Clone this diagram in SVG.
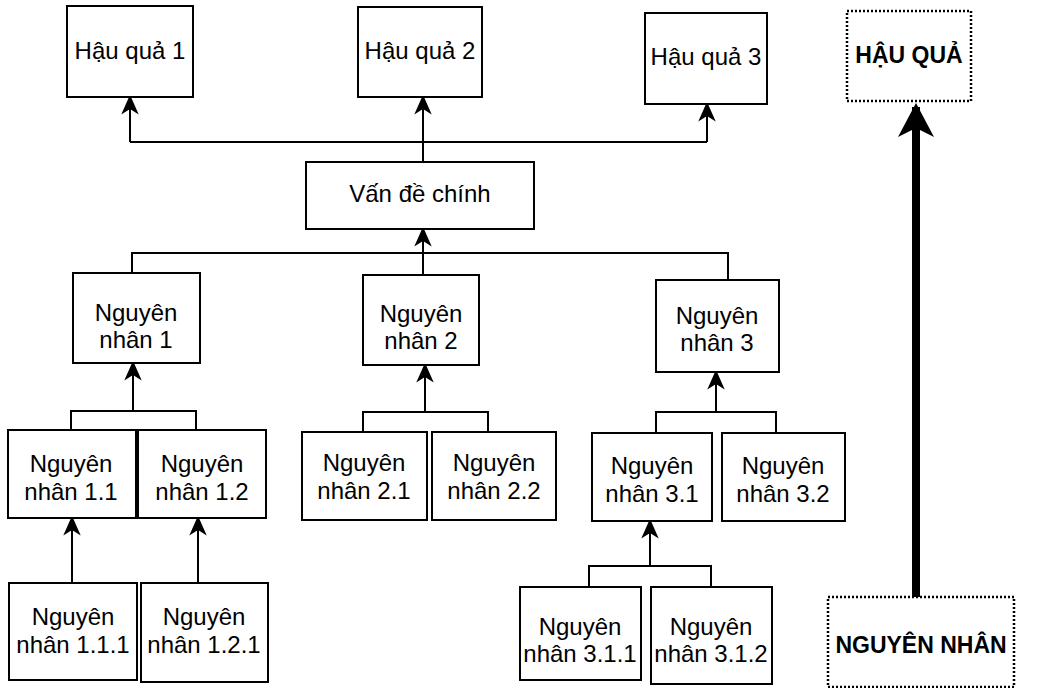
<svg xmlns="http://www.w3.org/2000/svg" width="1037" height="688" viewBox="0 0 1037 688">
<style>
  .box { fill: #fff; stroke: #000; stroke-width: 2; }
  .dot { fill: #fff; stroke: #000; stroke-width: 2.5; stroke-dasharray: 2 2; }
  .t { font-family: "Liberation Sans", Arial, sans-serif; font-size: 24px; fill: #000; text-anchor: middle; }
  .b { font-family: "Liberation Sans", Arial, sans-serif; font-size: 23px; font-weight: bold; fill: #000; text-anchor: middle; }
  .c { fill: none; stroke: #000; stroke-width: 2; }
  .a { fill: none; stroke: #000; stroke-width: 2; marker-end: url(#ah); }
  .thick { fill: none; stroke: #000; stroke-width: 8; marker-end: url(#big); }
</style>
<defs>
  <marker id="ah" markerUnits="userSpaceOnUse" markerWidth="24" markerHeight="24" viewBox="-20 -10 22 20" refX="-2" refY="0" orient="auto" overflow="visible">
    <path d="M0,0 L-18,-8 L-13,0 L-18,8 Z" fill="#000"/>
  </marker>
  <marker id="big" markerUnits="userSpaceOnUse" markerWidth="40" markerHeight="40" viewBox="-36 -20 40 40" refX="-4" refY="0" orient="auto" overflow="visible">
    <path d="M0,0 L-34,-18 L-25,0 L-34,18 Z" fill="#000"/>
  </marker>
</defs>

<g id="connectors">
  <!-- effects bus -->
  <path class="c" d="M130,142 H707"/>
  <path class="a" d="M130,142 V97"/>
  <path class="a" d="M707,142 V104"/>
  <path class="a" d="M423,162 V97"/>
  <!-- causes bus -->
  <path class="c" d="M132,273 V253 H728 V280"/>
  <path class="c" d="M423,253 V274"/>
  <path class="a" d="M423,253 V229"/>
  <!-- NN1 -->
  <path class="c" d="M71,430 V411 H196 V430"/>
  <path class="a" d="M133,411 V363"/>
  <!-- NN2 -->
  <path class="c" d="M363,432 V412 H488 V432"/>
  <path class="a" d="M425,412 V365"/>
  <!-- NN3 -->
  <path class="c" d="M656,433 V412 H776 V433"/>
  <path class="a" d="M716,412 V372"/>
  <!-- NN1.1, NN1.2 -->
  <path class="a" d="M72,583 V518"/>
  <path class="a" d="M198,583 V518"/>
  <!-- NN3.1 -->
  <path class="c" d="M589,587 V566 H711 V587"/>
  <path class="a" d="M650,566 V521"/>
  <!-- big arrow -->
  <path class="thick" d="M916,597 V107"/>
</g>

<g id="hq1"><rect class="box" x="67" y="6" width="126" height="91"/><text class="t" x="130" y="59">Hậu quả 1</text></g>
<g id="hq2"><rect class="box" x="358" y="7" width="124" height="90"/><text class="t" x="420" y="59">Hậu quả 2</text></g>
<g id="hq3"><rect class="box" x="645" y="13" width="122" height="91"/><text class="t" x="706" y="65">Hậu quả 3</text></g>
<g id="hauqua"><rect class="dot" x="847" y="11" width="124" height="90"/><text class="b" x="909" y="63">HẬU QUẢ</text></g>

<g id="vdc"><rect class="box" x="306" y="162" width="228" height="67"/><text class="t" x="420" y="202">Vấn đề chính</text></g>

<g id="nn1"><rect class="box" x="73" y="273" width="127" height="90"/><text class="t" x="136" y="321">Nguyên</text><text class="t" x="136" y="348">nhân 1</text></g>
<g id="nn2"><rect class="box" x="363" y="275" width="116" height="90"/><text class="t" x="421" y="322">Nguyên</text><text class="t" x="421" y="349">nhân 2</text></g>
<g id="nn3"><rect class="box" x="656" y="280" width="123" height="92"/><text class="t" x="717" y="324">Nguyên</text><text class="t" x="717" y="351">nhân 3</text></g>

<g id="nn11"><rect class="box" x="8" y="430" width="128" height="88"/><text class="t" x="71" y="472">Nguyên</text><text class="t" x="71" y="500">nhân 1.1</text></g>
<g id="nn12"><rect class="box" x="138" y="430" width="128" height="88"/><text class="t" x="202" y="472">Nguyên</text><text class="t" x="202" y="500">nhân 1.2</text></g>
<g id="nn21"><rect class="box" x="302" y="432" width="125" height="88"/><text class="t" x="364" y="471">Nguyên</text><text class="t" x="364" y="499">nhân 2.1</text></g>
<g id="nn22"><rect class="box" x="432" y="432" width="124" height="88"/><text class="t" x="494" y="471">Nguyên</text><text class="t" x="494" y="499">nhân 2.2</text></g>
<g id="nn31"><rect class="box" x="592" y="433" width="120" height="88"/><text class="t" x="652" y="474">Nguyên</text><text class="t" x="652" y="502">nhân 3.1</text></g>
<g id="nn32"><rect class="box" x="722" y="433" width="123" height="88"/><text class="t" x="783" y="474">Nguyên</text><text class="t" x="783" y="502">nhân 3.2</text></g>

<g id="nn111"><rect class="box" x="9" y="583" width="128" height="97"/><text class="t" x="73" y="625">Nguyên</text><text class="t" x="73" y="653">nhân 1.1.1</text></g>
<g id="nn121"><rect class="box" x="141" y="583" width="127" height="99"/><text class="t" x="204" y="625">Nguyên</text><text class="t" x="204" y="653">nhân 1.2.1</text></g>
<g id="nn311"><rect class="box" x="520" y="587" width="121" height="93"/><text class="t" x="580" y="635">Nguyên</text><text class="t" x="580" y="662">nhân 3.1.1</text></g>
<g id="nn312"><rect class="box" x="651" y="587" width="121" height="97"/><text class="t" x="711" y="635">Nguyên</text><text class="t" x="711" y="662">nhân 3.1.2</text></g>

<g id="nguyennhan"><rect class="dot" x="828" y="597" width="186" height="90"/><text class="b" x="921" y="653">NGUYÊN NHÂN</text></g>
</svg>
